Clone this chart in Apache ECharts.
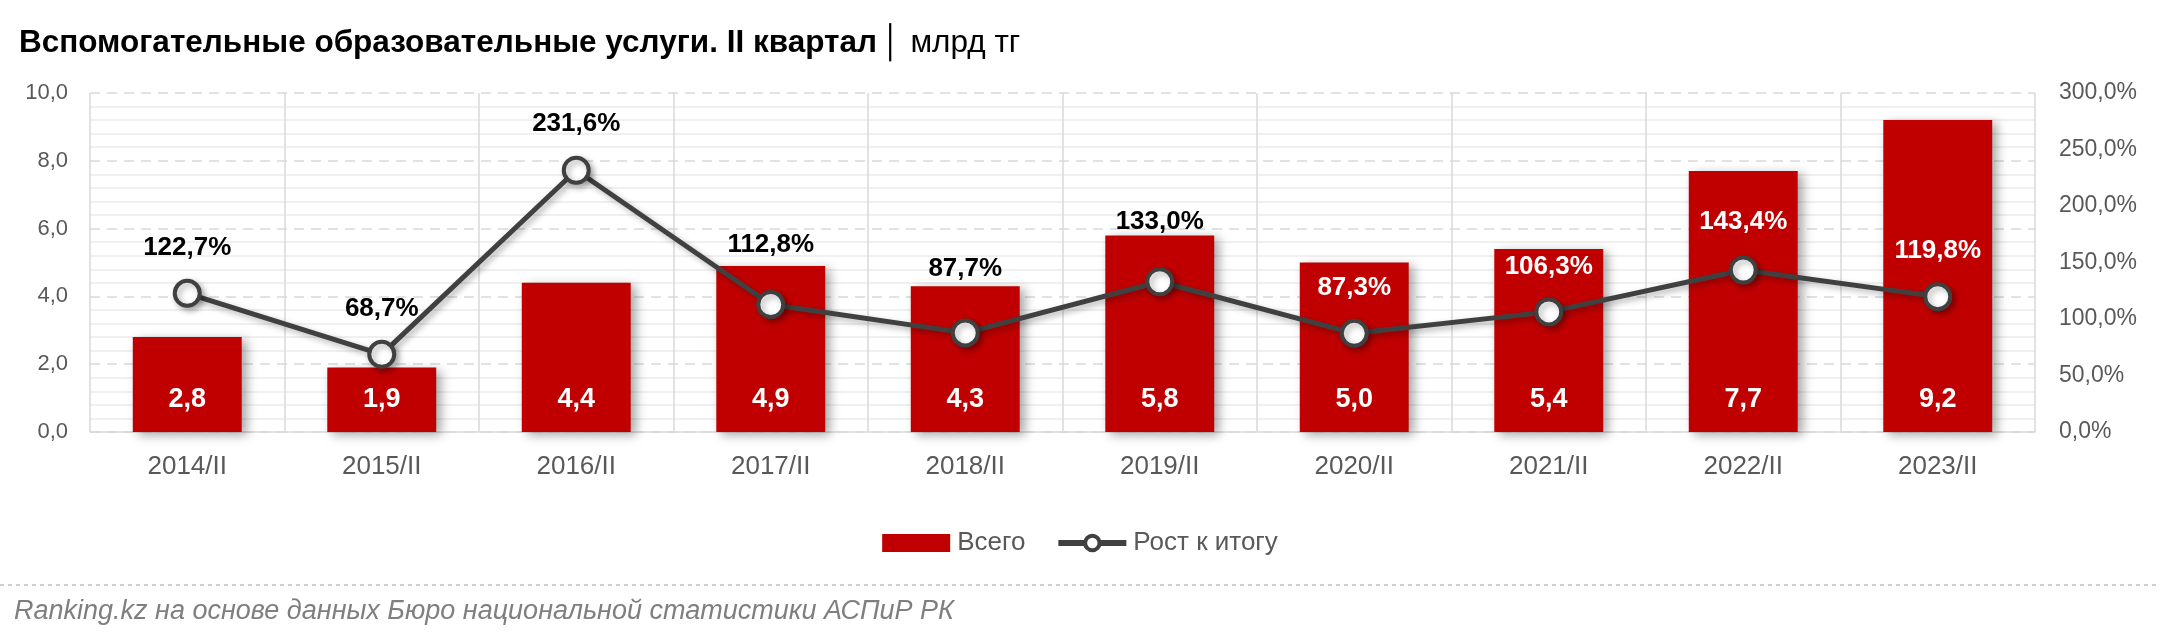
<!DOCTYPE html>
<html>
<head>
<meta charset="utf-8">
<script src="https://cdn.jsdelivr.net/npm/echarts@6/dist/echarts.min.js"></script>
<style>
html,body{margin:0;padding:0;background:#fff;}
#c{width:2160px;height:642px;}
</style>
</head>
<body>
<div id="c"></div>
<script>
const categories = ['2014/II','2015/II','2016/II','2017/II','2018/II','2019/II','2020/II','2021/II','2022/II','2023/II'];
const totals = [2.8, 1.9, 4.4, 4.9, 4.3, 5.8, 5.0, 5.4, 7.7, 9.2];
const growth = [122.7, 68.7, 231.6, 112.8, 87.7, 133.0, 87.3, 106.3, 143.4, 119.8];
const growthLabelColors = ['#000','#000','#000','#000','#000','#000','#fff','#fff','#fff','#fff'];
const growthLabelDistance = [18, 18, 19, 32, 37, 32, 18, 18, 21, 18];

const FONT = '"Liberation Sans", Arial, sans-serif';
const fmt1 = v => v.toFixed(1).replace('.', ',');

const chart = echarts.init(document.getElementById('c'), null, {renderer: 'canvas'});
chart.setOption({
  animation: false,
  backgroundColor: '#fff',
  textStyle: {fontFamily: FONT},
  title: {
    left: 14, top: 22,
    text: '{b|Вспомогательные образовательные услуги. II квартал} {n|│ млрд тг}',
    textStyle: {
      rich: {
        b: {fontFamily: FONT, fontWeight: 'bold', fontSize: 31.5, color: '#000'},
        n: {fontFamily: FONT, fontWeight: 'normal', fontSize: 31.5, color: '#000'}
      }
    }
  },
  legend: {
    top: 525, left: 'center',
    itemWidth: 68, itemHeight: 18, itemGap: 30,
    textStyle: {fontFamily: FONT, fontSize: 26, color: '#595959', padding: [0, 0, 0, 2]},
    data: [
      {name: 'Всего', icon: 'rect', itemStyle: {color: '#C00000'}},
      {name: 'Рост к итогу', lineStyle: {width: 6, color: '#404040'},
        itemStyle: {color: '#fff', borderColor: '#404040', borderWidth: 4}}
    ]
  },
  grid: {left: 90, right: 125, top: 93, bottom: 210},
  xAxis: {
    type: 'category',
    data: categories,
    axisLine: {lineStyle: {color: '#d9d9d9', width: 1.5}},
    axisTick: {show: false},
    axisLabel: {fontFamily: FONT, fontSize: 26, color: '#595959', margin: 22},
    splitLine: {show: true, lineStyle: {color: '#d9d9d9', width: 1.5}}
  },
  yAxis: [
    {
      type: 'value', min: 0, max: 10, interval: 2,
      axisLine: {show: false}, axisTick: {show: false},
      axisLabel: {fontFamily: FONT, fontSize: 22, color: '#595959', margin: 22,
        formatter: v => fmt1(v)},
      splitLine: {show: true, lineStyle: {color: '#d9d9d9', type: [10, 7], width: 1.5}},
      minorTick: {show: false, splitNumber: 5},
      minorSplitLine: {show: true, lineStyle: {color: '#ececec', width: 1.5}}
    },
    {
      type: 'value', min: 0, max: 300, interval: 50,
      axisLine: {show: false}, axisTick: {show: false},
      axisLabel: {fontFamily: FONT, fontSize: 23, color: '#595959', margin: 24,
        formatter: v => fmt1(v) + '%'},
      splitLine: {show: false}
    }
  ],
  series: [
    {
      name: 'Всего',
      type: 'bar',
      yAxisIndex: 0,
      barWidth: '56%',
      data: totals,
      itemStyle: {color: '#C00000', shadowColor: 'rgba(0,0,0,0.35)', shadowBlur: 10, shadowOffsetX: 5, shadowOffsetY: 3},
      label: {
        show: true, position: 'insideBottom', distance: 19,
        fontFamily: FONT, fontWeight: 'bold', fontSize: 27, color: '#fff',
        formatter: p => fmt1(p.value)
      },
      z: 2
    },
    {
      name: 'Рост к итогу',
      type: 'line',
      yAxisIndex: 1,
      data: growth.map((v, i) => ({
        value: v,
        label: {color: growthLabelColors[i], distance: growthLabelDistance[i]}
      })),
      symbol: 'circle', symbolSize: 25,
      lineStyle: {color: '#404040', width: 5, shadowColor: 'rgba(0,0,0,0.3)', shadowBlur: 6, shadowOffsetX: 3, shadowOffsetY: 3},
      itemStyle: {color: '#fff', borderColor: '#404040', borderWidth: 4, shadowColor: 'rgba(0,0,0,0.3)', shadowBlur: 6, shadowOffsetX: 3, shadowOffsetY: 3},
      label: {
        show: true, position: 'top',
        fontFamily: FONT, fontWeight: 'bold', fontSize: 26,
        formatter: p => fmt1(p.value) + '%'
      },
      z: 3
    }
  ],
  graphic: [
    {type: 'line', shape: {x1: 0, y1: 585, x2: 2160, y2: 585},
      style: {stroke: '#bfbfbf', lineWidth: 1.5, lineDash: [4, 4]}},
    {type: 'text', left: 14, top: 598,
      style: {text: 'Ranking.kz на основе данных Бюро национальной статистики АСПиР РК',
        font: 'italic 27px ' + FONT, fill: '#7f7f7f'}}
  ]
});
</script>
</body>
</html>
